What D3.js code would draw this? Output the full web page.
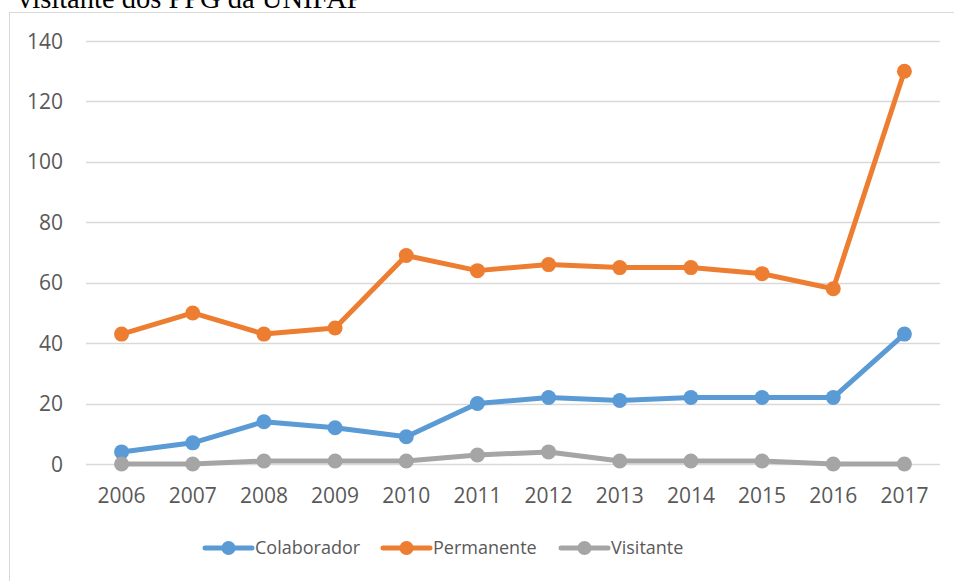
<!DOCTYPE html>
<html><head><meta charset="utf-8">
<script src="https://cdn.jsdelivr.net/npm/d3@7"></script>
<style>body{margin:0;background:#fff;}svg{display:block;}</style>
</head><body>
<svg id="c" width="954" height="581"></svg>
<script>
const years = ["2006","2007","2008","2009","2010","2011","2012","2013","2014","2015","2016","2017"];
const colaborador = [4, 7, 14, 12, 9, 20, 22, 21, 22, 22, 22, 43];
const permanente = [43, 50, 43, 45, 69, 64, 66, 65, 65, 63, 58, 130];
const visitante = [0, 0, 1, 1, 1, 3, 4, 1, 1, 1, 0, 0];
const seriesNames = ["Colaborador", "Permanente", "Visitante"];
const yTicks = [0, 20, 40, 60, 80, 100, 120, 140];
const titleText = "visitante dos PPG da UNIFAP";

const colors = ["#5B9BD5", "#ED7D31", "#A5A5A5"];
const series = [colaborador, permanente, visitante];
const font = "'Open Sans', 'Noto Sans', sans-serif";

const svg = d3.select("#c");
svg.append("rect").attr("x", 9.5).attr("y", 12.5).attr("width", 960).attr("height", 600)
  .attr("fill", "#fff").attr("stroke", "#d9d9d9").attr("stroke-width", 1);
svg.append("text").attr("x", 18).attr("y", 8).attr("font-family", "'Liberation Serif', 'Times New Roman', serif")
  .attr("font-size", 28.5).attr("fill", "#000").text(titleText);

const x = d3.scaleBand().domain(years).range([86, 940]);
const y = d3.scaleLinear().domain([0, 140]).range([464, 41]);
const cx = d => x(d) + x.bandwidth() / 2;

const g = svg.append("g");
g.selectAll("line.grid").data(yTicks).join("line").attr("class", "grid")
  .attr("x1", 86).attr("x2", 940).attr("y1", d => Math.round(y(d)) + 0.5).attr("y2", d => Math.round(y(d)) + 0.5)
  .attr("stroke", "#d9d9d9").attr("stroke-width", 1.5);

g.selectAll("text.yl").data(yTicks).join("text").attr("class", "yl")
  .attr("x", 63).attr("y", d => y(d)).attr("dy", "0.36em").attr("text-anchor", "end")
  .attr("font-family", font).attr("font-size", 21).attr("fill", "#595959").text(d => d);

g.selectAll("text.xl").data(years).join("text").attr("class", "xl")
  .attr("x", d => cx(d)).attr("y", 503).attr("text-anchor", "middle")
  .attr("font-family", font).attr("font-size", 21).attr("fill", "#595959").text(d => d);

const line = d3.line().x((d, i) => cx(years[i])).y(d => y(d));
series.forEach((s, k) => {
  g.append("path").datum(s).attr("d", line).attr("fill", "none")
    .attr("stroke", colors[k]).attr("stroke-width", 5).attr("stroke-linejoin", "round").attr("stroke-linecap", "round");
  g.selectAll("circle.s" + k).data(s).join("circle").attr("class", "s" + k)
    .attr("cx", (d, i) => cx(years[i])).attr("cy", d => y(d)).attr("r", 7.5).attr("fill", colors[k]);
});

const legX = [205, 383, 561];
const leg = svg.append("g");
seriesNames.forEach((n, k) => {
  const lx = legX[k], ly = 548;
  leg.append("line").attr("x1", lx).attr("x2", lx + 47).attr("y1", ly).attr("y2", ly)
    .attr("stroke", colors[k]).attr("stroke-width", 5).attr("stroke-linecap", "round");
  leg.append("circle").attr("cx", lx + 23.5).attr("cy", ly).attr("r", 7).attr("fill", colors[k]);
  leg.append("text").attr("x", lx + 50).attr("y", ly).attr("dy", "0.36em")
    .attr("font-family", font).attr("font-size", 18).attr("fill", "#595959").text(n);
});
</script>
</body></html>
